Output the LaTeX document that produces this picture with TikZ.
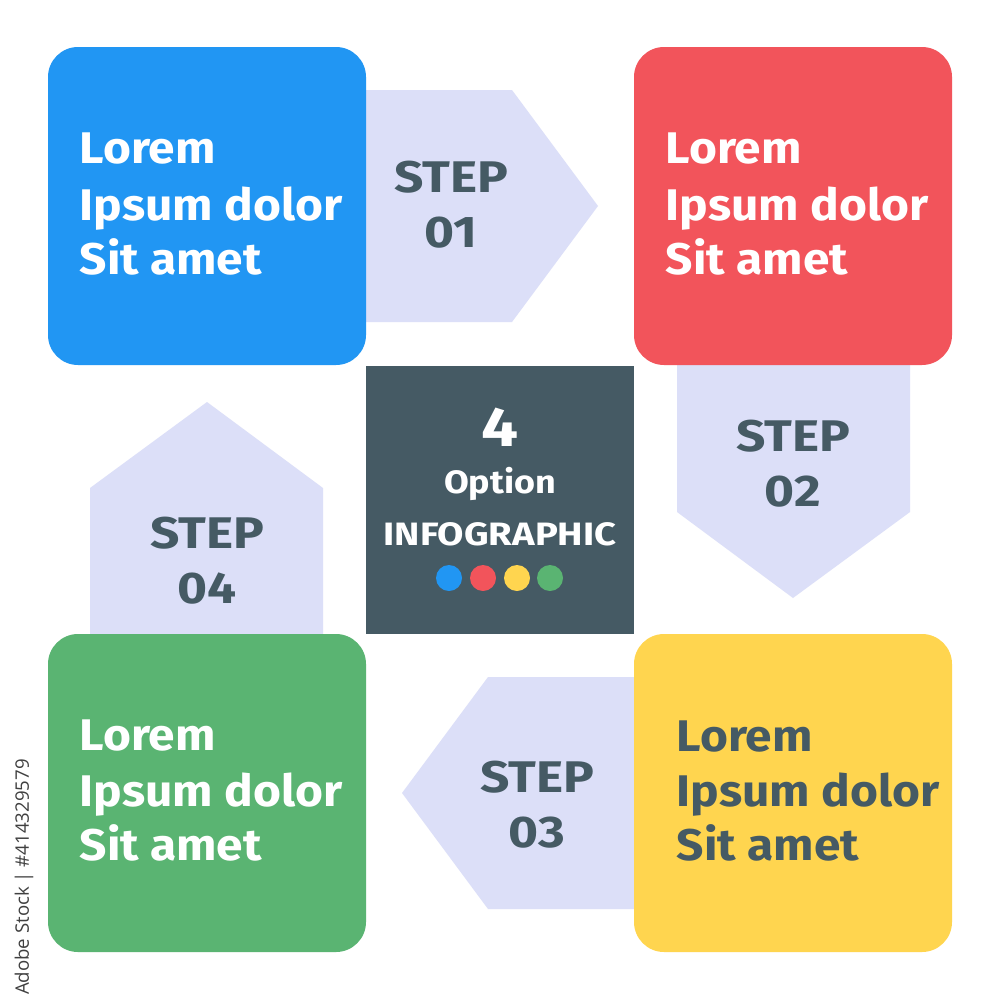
\documentclass[tikz,border=0pt]{standalone}
\usepackage{fontspec}
\setmainfont{Fira Sans}
\newfontfamily\lorfont{Fira Sans}[FakeStretch=1.08]
\newfontfamily\stpfont{Fira Sans}[FakeStretch=1.16]
\newfontfamily\optfont{Fira Sans}[FakeStretch=1.11]
\newfontfamily\infofont{Fira Sans}[FakeStretch=1.18]
\newfontfamily\wmfont{Open Sans}
\definecolor{cblue}{HTML}{2196F3}
\definecolor{cred}{HTML}{F2545B}
\definecolor{cyellow}{HTML}{FFD54F}
\definecolor{cgreen}{HTML}{5AB472}
\definecolor{cslate}{HTML}{455A64}
\definecolor{clav}{HTML}{DCDFF8}
\tikzset{
  card/.style={rounded corners=0.3cm},
  steparrow/.style={fill=clav},
  lorem/.style={anchor=base west, inner sep=0pt, font=\lorfont\fontsize{12.6}{15}\selectfont\bfseries},
  steptxt/.style={anchor=base, inner sep=0pt, text=cslate, font=\stpfont\fontsize{12.6}{15}\selectfont\bfseries},
  midtxt/.style={anchor=base, inner sep=0pt, text=white, font=\fontsize{9.2}{11}\selectfont\bfseries},
}
\begin{document}
\begin{tikzpicture}[x=0.01cm,y=-0.01cm]
\fill[white] (0,0) rectangle (1000,1000);
\useasboundingbox (0,0) rectangle (1000,1000);
% step arrows
\fill[steparrow] (360,90) -- (512,90) -- (598,206) -- (512,322) -- (360,322) -- cycle;
\fill[steparrow] (677,360) -- (910,360) -- (910,512) -- (793,598) -- (677,512) -- cycle;
\fill[steparrow] (640,677) -- (488,677) -- (402,793) -- (488,909) -- (640,909) -- cycle;
\fill[steparrow] (90,640) -- (90,488) -- (207,402) -- (323,488) -- (323,640) -- cycle;
% cards
\fill[cblue,card] (48,47) rectangle (366,365);
\fill[cred,card] (634,47) rectangle (952,365);
\fill[cgreen,card] (48,634) rectangle (366,952);
\fill[cyellow,card] (634,634) rectangle (952,952);
\fill[cslate] (366,366) rectangle (634,634);
% card texts
\node[lorem,text=white] (b1) at (79,163) {Lorem};
\node[lorem,text=white] (b2) at (79,220) {Ipsum dolor};
\node[lorem,text=white] (b3) at (79,274) {Sit amet};
\node[lorem,text=white] (r1) at (665,163) {Lorem};
\node[lorem,text=white] (r2) at (665,220) {Ipsum dolor};
\node[lorem,text=white] (r3) at (665,274) {Sit amet};
\node[lorem,text=white] (g1) at (79,750) {Lorem};
\node[lorem,text=white] (g2) at (79,806) {Ipsum dolor};
\node[lorem,text=white] (g3) at (79,860) {Sit amet};
\node[lorem,text=cslate] (y1) at (676,751) {Lorem};
\node[lorem,text=cslate] (y2) at (676,806) {Ipsum dolor};
\node[lorem,text=cslate] (y3) at (676,860) {Sit amet};
% step texts
\node[steptxt] (s1a) at (451,192) {STEP};
\node[steptxt] (s1b) at (451,247) {01};
\node[steptxt] (s2a) at (793,451) {STEP};
\node[steptxt] (s2b) at (793,506) {02};
\node[steptxt] (s3a) at (537,792) {STEP};
\node[steptxt] (s3b) at (537,847) {03};
\node[steptxt] (s4a) at (207,548) {STEP};
\node[steptxt] (s4b) at (207,603) {04};
% centre
\node[anchor=base, inner sep=0pt, text=white, font=\infofont\fontsize{15.8}{18}\selectfont\bfseries] (four) at (500,446) {4};
\node[midtxt, font=\optfont\fontsize{9.2}{11}\selectfont\bfseries] (opt) at (500,493) {Option};
\node[midtxt, font=\infofont\fontsize{9.2}{11}\selectfont\bfseries] (info) at (500,545) {INFOGRAPHIC};
\fill[cblue] (449,578) circle (13);
\fill[cred] (483,578) circle (13);
\fill[cyellow] (517,578) circle (13);
\fill[cgreen] (550,578) circle (13);
% side label
\node[rotate=90, inner sep=0pt, text=black!75, font=\wmfont\fontsize{5.3}{6}\selectfont] (wm) at (24,877) {Adobe Stock | \#414329579};
\end{tikzpicture}
\end{document}
